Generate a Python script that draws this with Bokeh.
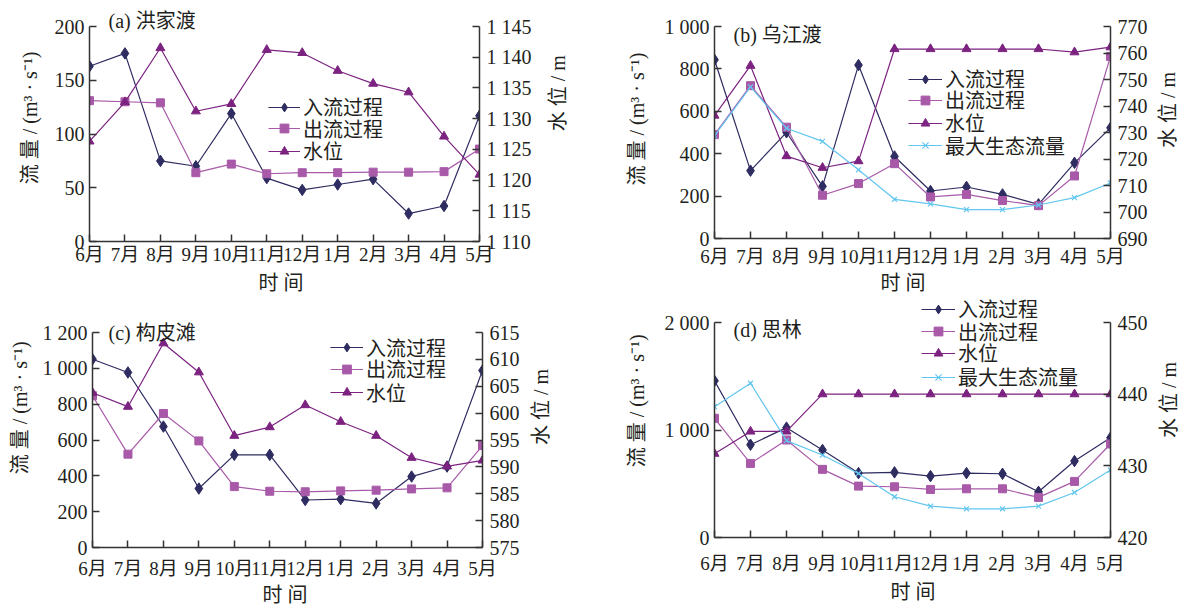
import math
from bokeh.plotting import figure
from bokeh.models import Range1d, LinearAxis, FixedTicker, Legend, LegendItem, Label, Title
from bokeh.layouts import column, row
from bokeh.embed import file_html
from bokeh.resources import INLINE

months = ["6月", "7月", "8月", "9月", "10月", "11月", "12月", "1月", "2月", "3月", "4月", "5月"]
series_names = ["入流过程", "出流过程", "水位", "最大生态流量"]
flow_title = "流 量 / (m³ · s⁻¹)"
level_title = "水 位 / m"
time_title = "时 间"

# (a) 洪家渡
a_inflow = [163, 175, 75, 70, 119, 59, 48, 53, 58, 26, 33, 117]
a_outflow = [131, 130, 129, 64, 72, 63, 64, 64, 64.5, 64.5, 65, 86]
a_level = [1126.3, 1132.7, 1141.5, 1131.2, 1132.4, 1141.2, 1140.7, 1137.8, 1135.7, 1134.3, 1127.1, 1120.9]
a_flow_ticks = [0, 50, 100, 150, 200]
a_flow_labels = ["0", "50", "100", "150", "200"]
a_level_ticks = [1110, 1115, 1120, 1125, 1130, 1135, 1140, 1145]
a_level_labels = ["1 110", "1 115", "1 120", "1 125", "1 130", "1 135", "1 140", "1 145"]

# (b) 乌江渡
b_inflow = [843, 320, 501, 246, 818, 387, 224, 243, 208, 161, 357, 522]
b_outflow = [490, 721, 525, 204, 259, 353, 196, 208, 179, 155, 295, 859]
b_level = [736.4, 755.2, 721.1, 716.7, 719.2, 761.5, 761.5, 761.5, 761.5, 761.5, 760.3, 762.2]
b_eco = [485, 715, 520, 458, 324, 185, 163, 136, 136, 158, 193, 262]
b_flow_ticks = [0, 200, 400, 600, 800, 1000]
b_flow_labels = ["0", "200", "400", "600", "800", "1 000"]
b_level_ticks = [690, 700, 710, 720, 730, 740, 750, 760, 770]
b_level_labels = ["690", "700", "710", "720", "730", "740", "750", "760", "770"]

# (c) 构皮滩
c_inflow = [1051, 977, 675, 329, 517, 517, 265, 270, 246, 396, 452, 988]
c_outflow = [847, 521, 748, 595, 340, 314, 311, 316, 320, 327, 333, 569]
c_level = [603.8, 601.2, 613.0, 607.6, 595.8, 597.4, 601.5, 598.4, 595.8, 591.7, 590.1, 591.2]
c_flow_ticks = [0, 200, 400, 600, 800, 1000, 1200]
c_flow_labels = ["0", "200", "400", "600", "800", "1 000", "1 200"]
c_level_ticks = [575, 580, 585, 590, 595, 600, 605, 610, 615]
c_level_labels = ["575", "580", "585", "590", "595", "600", "605", "610", "615"]

# (d) 思林
d_inflow = [1457, 863, 1022, 814, 599, 606, 571, 599, 593, 425, 711, 929]
d_outflow = [1109, 689, 907, 634, 478, 472, 447, 453, 453, 373, 522, 870]
d_level = [431.7, 434.8, 434.8, 440, 440, 440, 440, 440, 440, 440, 440, 440]
d_eco = [1217, 1435, 901, 767, 596, 379, 292, 267, 267, 292, 419, 627]
d_flow_ticks = [0, 1000, 2000]
d_flow_labels = ["0", "1 000", "2 000"]
d_level_ticks = [420, 430, 440, 450]
d_level_labels = ["420", "430", "440", "450"]

FONT = "'Liberation Serif', 'Noto Sans CJK SC'"
TXT = "#231f20"
AX = "#333333"
C_IN = "#2e2c60"
C_OUT = "#a85aa9"
C_LVL = "#7c2280"
C_ECO = "#62c6ef"
ITEM_H = 28  # height of one legend entry as laid out by Bokeh


def style_axis(ax, label_size, standoff):
    ax.axis_line_color = AX
    ax.axis_line_width = 1.5
    ax.major_tick_line_color = AX
    ax.major_tick_line_width = 1.5
    ax.major_tick_in = 7
    ax.major_tick_out = 0
    ax.minor_tick_line_color = None
    ax.major_label_text_font = FONT
    ax.major_label_text_font_size = label_size
    ax.major_label_text_color = TXT
    ax.major_label_standoff = standoff
    ax.axis_label = None


def panel(title, flow_max, flow_ticks, flow_labels, lvl_lo, lvl_hi, lvl_ticks, lvl_labels,
          inflow, outflow, level, eco, g):
    top, bot = g["top"], g["bot"]          # pixel rows of the highest tick and of zero
    ext = bot / (bot - top)                 # frame reaches the figure top
    p = figure(frame_width=g["fw"], frame_height=bot,
               x_range=Range1d(0, len(months) - 1), y_range=Range1d(0, flow_max * ext),
               min_border_left=g["ml"], min_border_right=g["mr"],
               min_border_top=0, min_border_bottom=g["mb"],
               output_backend="svg", toolbar_location=None, tools="")
    p.outline_line_color = None
    p.grid.visible = False
    p.background_fill_color = "white"
    p.border_fill_color = "white"

    xs = list(range(len(months)))
    p.xaxis.ticker = FixedTicker(ticks=xs)
    p.xaxis.major_label_overrides = {i: m for i, m in enumerate(months)}
    style_axis(p.xaxis[0], "19px", g["xs"])

    p.yaxis.ticker = FixedTicker(ticks=flow_ticks)
    p.yaxis.major_label_overrides = {t: l for t, l in zip(flow_ticks, flow_labels)}
    p.yaxis.bounds = (0, flow_max)
    style_axis(p.yaxis[0], "20px", 5)

    p.extra_y_ranges = {"lvl": Range1d(lvl_lo, lvl_lo + (lvl_hi - lvl_lo) * ext)}
    rax = LinearAxis(y_range_name="lvl", ticker=FixedTicker(ticks=lvl_ticks), bounds=(lvl_lo, lvl_hi),
                     major_label_overrides={t: l for t, l in zip(lvl_ticks, lvl_labels)})
    style_axis(rax, "20px", 7)
    p.add_layout(rax, "right")

    items = []
    l1 = p.line(xs, inflow, line_color=C_IN, line_width=1.2)
    s1 = p.scatter(xs, inflow, marker="diamond", size=11.5, fill_color=C_IN, line_color=C_IN)
    items.append(LegendItem(label=series_names[0], renderers=[l1, s1]))
    l2 = p.line(xs, outflow, line_color=C_OUT, line_width=1.2)
    s2 = p.scatter(xs, outflow, marker="square", size=8, fill_color=C_OUT, line_color=C_OUT)
    items.append(LegendItem(label=series_names[1], renderers=[l2, s2]))
    l3 = p.line(xs, level, line_color=C_LVL, line_width=1.2, y_range_name="lvl")
    s3 = p.scatter(xs, level, marker="triangle", size=9, fill_color=C_LVL, line_color=C_LVL,
                   y_range_name="lvl")
    items.append(LegendItem(label=series_names[2], renderers=[l3, s3]))
    if eco is not None:
        l4 = p.line(xs, eco, line_color=C_ECO, line_width=1.2)
        s4 = p.scatter(xs, eco, marker="x", size=7, line_color=C_ECO, line_width=1.2)
        items.append(LegendItem(label=series_names[3], renderers=[l4, s4]))

    # one single-entry legend per series, so the rows sit as tightly as in the original
    for item, yc in zip(items, g["rows"]):
        p.add_layout(Legend(items=[item], location=(g["lx"], yc - ITEM_H / 2),
                            orientation="vertical", padding=0, margin=0, spacing=0,
                            glyph_width=g["gw"], glyph_height=22, label_height=22,
                            label_standoff=3, label_text_font=FONT,
                            label_text_font_size="20px", label_text_color=TXT,
                            background_fill_alpha=0, border_line_alpha=0))

    # panel title inside the frame
    p.add_layout(Label(x=0, y=flow_max, x_offset=g["tx"], y_offset=g["ty"], text=title,
                       text_font=FONT, text_font_size="20px", text_color=TXT,
                       text_align="left", text_baseline="middle"))
    # x axis title
    p.add_layout(Title(text=time_title, align="left", offset=g["bo"], standoff=g["bs"],
                       text_font=FONT, text_font_size="20px", text_font_style="normal",
                       text_color=TXT), "below")
    return p


def axis_strip(text, width, height, cx, cy):
    # narrow strip that carries a vertical axis title, read from bottom to top
    f = figure(width=width, height=height, min_border=0, x_range=Range1d(0, width),
               y_range=Range1d(0, height), x_axis_location=None, y_axis_location=None,
               output_backend="svg", toolbar_location=None, tools="")
    f.outline_line_color = None
    f.grid.visible = False
    f.background_fill_color = "white"
    f.border_fill_color = "white"
    f.add_layout(Label(x=cx, y=height - cy, text=text, angle=math.pi / 2,
                       text_font=FONT, text_font_size="20px", text_color=TXT,
                       text_align="center", text_baseline="middle"))
    return f


la = axis_strip(flow_title, 45, 298, 29, 147)
pa = panel("(a) 洪家渡", 200, a_flow_ticks, a_flow_labels, 1110, 1145, a_level_ticks, a_level_labels,
           a_inflow, a_outflow, a_level, None,
           dict(fw=390, top=26, bot=241, ml=44, mr=66, mb=57, xs=2,
                lx=179, rows=[134, 112.5, 90], gw=32, tx=19, ty=6, bo=169, bs=4))
ra = axis_strip(level_title, 46, 298, 12, 116)
lb = axis_strip(flow_title, 64, 298, 45.7, 148.5)
pb = panel("(b) 乌江渡", 1000, b_flow_ticks, b_flow_labels, 690, 770, b_level_ticks, b_level_labels,
           b_inflow, b_outflow, b_level, b_eco,
           dict(fw=396, top=26, bot=238, ml=59, mr=40, mb=60, xs=7,
                lx=194, rows=[159, 138, 115, 92.3], gw=34, tx=19, ty=-8, bo=166, bs=0))
rb = axis_strip(level_title, 32, 298, 17, 137)

lc = axis_strip(flow_title, 38, 306, 19, 140)
pc = panel("(c) 构皮滩", 1200, c_flow_ticks, c_flow_labels, 575, 615, c_level_ticks, c_level_labels,
           c_inflow, c_outflow, c_level, None,
           dict(fw=390, top=34, bot=249, ml=54, mr=46, mb=57, xs=10,
                lx=238, rows=[199.3, 177.7, 154.3], gw=33, tx=16, ty=0, bo=170, bs=0))
rc = axis_strip(level_title, 63, 306, 12, 139)
ld = axis_strip(flow_title, 64, 306, 45.7, 131)
pd_ = panel("(d) 思林", 2000, d_flow_ticks, d_flow_labels, 420, 450, d_level_ticks, d_level_labels,
            d_inflow, d_outflow, d_level, d_eco,
            dict(fw=396, top=24, bot=239, ml=59, mr=42, mb=67, xs=15,
                 lx=207, rows=[227.7, 205.3, 183.7, 159.7], gw=34, tx=19, ty=-7, bo=176, bs=4))
rd = axis_strip(level_title, 30, 306, 16, 130)

layout = column(row(la, pa, ra, lb, pb, rb), row(lc, pc, rc, ld, pd_, rd))
open("out.html", "w").write(file_html(layout, INLINE))
